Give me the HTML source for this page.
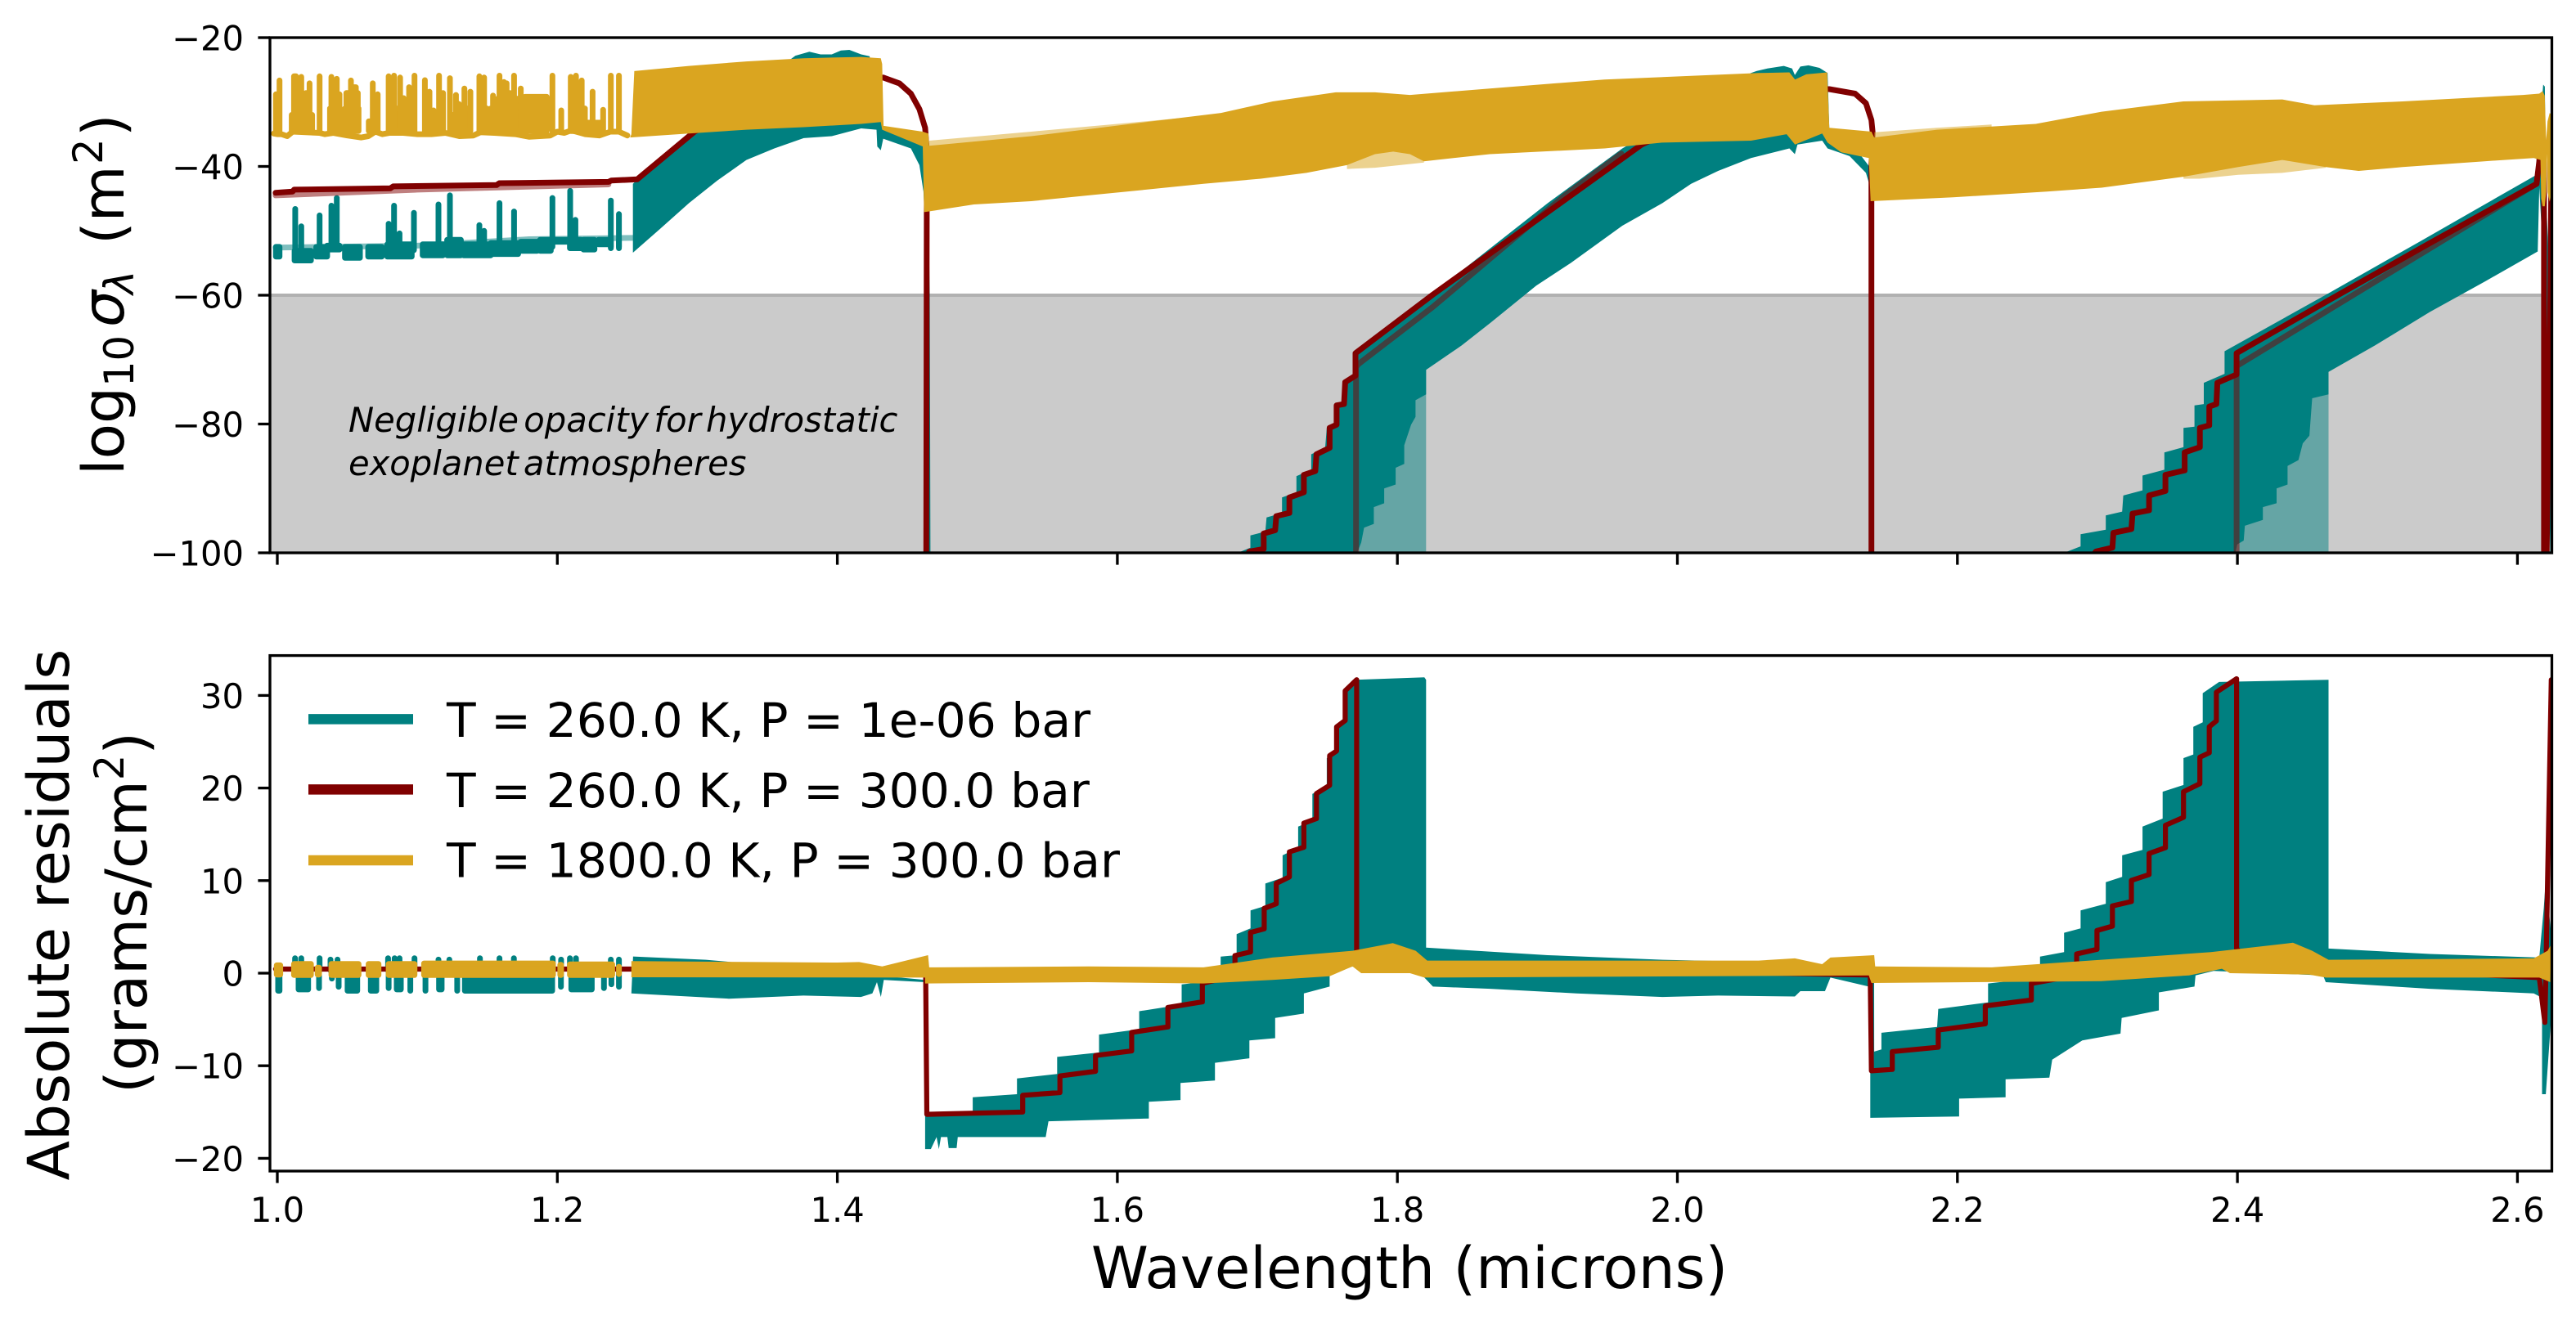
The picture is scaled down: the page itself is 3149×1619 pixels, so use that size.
<!DOCTYPE html>
<html lang="en">
<head>
<meta charset="utf-8">
<title>Opacity cross sections and residuals</title>
<style>
html,body{margin:0;padding:0;background:#fff;}
svg{display:block;}
text{font-family:"DejaVu Sans","Liberation Sans",sans-serif;fill:#000;}
</style>
</head>
<body>
<svg id="chart" xmlns="http://www.w3.org/2000/svg" width="3149" height="1619" viewBox="0 0 3149 1619">
  <rect x="0" y="0" width="3149" height="1619" fill="#ffffff"/>
  <defs>
    <clipPath id="clipTop"><rect x="330" y="46" width="2789.5" height="630"/></clipPath>
    <clipPath id="clipBottom"><rect x="330" y="801.6" width="2789.5" height="630.4"/></clipPath>
  </defs>
  <g id="topPlot" clip-path="url(#clipTop)"></g>
  <g id="bottomPlot" clip-path="url(#clipBottom)"></g>
  <g id="axesLayer"></g>

  <text x="426" y="528" font-size="41.67" font-style="italic" word-spacing="-7">Negligible opacity for hydrostatic</text>
  <text x="426" y="581" font-size="41.67" font-style="italic" word-spacing="-7">exoplanet atmospheres</text>

  <text transform="translate(151,581) rotate(-90)" font-size="70.83"><tspan x="0" y="0">log</tspan><tspan x="108" y="12" font-size="49.6">10</tspan><tspan x="181" y="0" font-style="italic">σ</tspan><tspan x="221" y="12" font-size="49.6" font-style="italic">λ</tspan><tspan x="282" y="0">(m</tspan><tspan x="380" y="-26" font-size="49.6">2</tspan><tspan x="414" y="0">)</tspan></text>

  <text transform="translate(84,1118.5) rotate(-90)" font-size="70.83" text-anchor="middle">Absolute residuals</text>
  <text transform="translate(179,1116) rotate(-90)" font-size="70.83" text-anchor="middle">(grams/cm<tspan font-size="49.6" dy="-28">2</tspan><tspan dy="28">)</tspan></text>

  <text x="1723" y="1575" font-size="70.83" text-anchor="middle">Wavelength (microns)</text>

  <g>
    <line x1="377" x2="505" y1="879.4" y2="879.4" stroke="#008080" stroke-width="12.5"/>
    <text x="546" y="900.8" font-size="58.33">T = 260.0 K, P = 1e-06 bar</text>
    <line x1="377" x2="505" y1="965.4" y2="965.4" stroke="#800000" stroke-width="12.5"/>
    <text x="546" y="986.8" font-size="58.33">T = 260.0 K, P = 300.0 bar</text>
    <line x1="377" x2="505" y1="1052" y2="1052" stroke="#DAA520" stroke-width="12.5"/>
    <text x="546" y="1072.6" font-size="58.33">T = 1800.0 K, P = 300.0 bar</text>
  </g>
</svg>
<script>
// ---- Axis tick data ----
const xTickValues = [1.0, 1.2, 1.4, 1.6, 1.8, 2.0, 2.2, 2.4, 2.6];
const xTickLabels = ['1.0', '1.2', '1.4', '1.6', '1.8', '2.0', '2.2', '2.4', '2.6'];
const topTickValues = [-20, -40, -60, -80, -100];
const topTickLabels = ['−20', '−40', '−60', '−80', '−100'];
const bottomTickValues = [30, 20, 10, 0, -10, -20];
const bottomTickLabels = ['30', '20', '10', '0', '−10', '−20'];
const negligibleCeiling = -60;

// ---- Top panel, discrete line features below 1.25 microns: [wave start, wave end, upper value, lower value] ----
const topGoldLines = [[0.999,0.999,-28.8,-34.5],[1.0016,1.0016,-26.65,-34.5],[1.0103,1.0249,-32,-34.5],[1.0119,1.0134,-26,-34.5],[1.0171,1.0171,-26.1,-34.5],[1.0205,1.0205,-28.6,-34.5],[1.023,1.023,-27.1,-34.5],[1.0302,1.0302,-26,-34.5],[1.0376,1.0444,-31,-34.5],[1.0386,1.0386,-26.1,-34.5],[1.0405,1.0405,-27.3,-34.5],[1.0425,1.0425,-26.4,-34.5],[1.0444,1.0444,-28.8,-34.5],[1.0483,1.058,-31,-34.5],[1.0493,1.0509,-28.6,-34.5],[1.0526,1.0526,-26.65,-34.5],[1.0547,1.0561,-27.7,-34.5],[1.0575,1.0575,-28.6,-34.5],[1.0653,1.0664,-33,-34.5],[1.0682,1.0682,-27.1,-34.5],[1.0717,1.0717,-28.8,-34.5],[1.0795,1.0902,-31,-34.5],[1.0795,1.0795,-26,-34.5],[1.0834,1.0834,-25.9,-34.5],[1.0877,1.0877,-26.2,-34.5],[1.0902,1.0902,-29.4,-34.5],[1.0941,1.098,-31,-34.5],[1.0941,1.0941,-27.7,-34.5],[1.098,1.098,-25.9,-34.5],[1.1054,1.1116,-32,-34.5],[1.1054,1.1054,-26.6,-34.5],[1.1087,1.1087,-28.4,-34.5],[1.1116,1.1116,-31.3,-34.5],[1.1155,1.1184,-31,-34.5],[1.1155,1.1155,-25.9,-34.5],[1.1184,1.1184,-28.6,-34.5],[1.1233,1.131,-32,-34.5],[1.1233,1.1233,-26.3,-34.5],[1.1276,1.1276,-28.9,-34.5],[1.1297,1.1297,-30.3,-34.5],[1.1336,1.1379,-31,-34.5],[1.1336,1.1336,-27.9,-34.5],[1.1379,1.1379,-28.4,-34.5],[1.1443,1.1496,-31,-34.5],[1.1443,1.1443,-26,-34.5],[1.1477,1.1477,-26.2,-34.5],[1.1496,1.1496,-33.2,-34.5],[1.1525,1.1574,-31,-34.5],[1.1541,1.1541,-29,-34.5],[1.1587,1.1587,-25.9,-34.5],[1.1574,1.176,-29.5,-34.5],[1.1619,1.1619,-26.9,-34.5],[1.1638,1.1638,-27.1,-34.5],[1.1661,1.1661,-28.6,-34.5],[1.1691,1.1691,-25.9,-34.5],[1.1739,1.1739,-27.9,-34.5],[1.1769,1.1924,-29.2,-34.5],[1.1965,1.1965,-25.9,-34.5],[1.2028,1.2028,-31.3,-34.5],[1.2096,1.2197,-31,-34.5],[1.2096,1.2096,-26.1,-34.5],[1.2133,1.2133,-25.9,-34.5],[1.2174,1.2174,-26.65,-34.5],[1.2197,1.2327,-33.2,-34.5],[1.2252,1.2252,-28.4,-34.5],[1.2327,1.2327,-31.2,-34.5],[1.2382,1.2382,-25.9,-34.5],[1.244,1.244,-25.9,-34.5]];
const topGoldBase = [[0.9975,-34.9],[1.0,-35],[1.003,-35],[1.007,-35.3],[1.011,-34.6],[1.03,-34.8],[1.034,-35],[1.04,-34.8],[1.05,-35.2],[1.06,-35.5],[1.065,-35.3],[1.07,-34.6],[1.075,-35],[1.08,-34.8],[1.09,-34.8],[1.1,-35],[1.11,-35],[1.12,-34.8],[1.13,-35.3],[1.14,-35.2],[1.145,-34.7],[1.155,-34.8],[1.17,-35],[1.18,-35.4],[1.195,-35.2],[1.2,-34.6],[1.205,-34.8],[1.21,-34.4],[1.22,-35],[1.23,-35.2],[1.238,-34.6],[1.244,-34.6],[1.25,-35.2]];
const topTealLines = [[1.0128,1.0128,-46.6,-53],[1.0171,1.0171,-49.3,-53],[1.0302,1.0302,-47.6,-53],[1.0386,1.0386,-46.1,-52.5],[1.0425,1.0425,-44.9,-52.5],[1.0795,1.0795,-48.9,-53],[1.0834,1.0834,-46.1,-53],[1.0873,1.0873,-50.4,-53],[1.0976,1.0976,-47.2,-53],[1.1151,1.1151,-45.9,-53],[1.1233,1.1233,-44.5,-53],[1.1443,1.1443,-49.1,-53],[1.1477,1.1477,-50,-53],[1.1587,1.1587,-45.7,-53],[1.1691,1.1691,-47,-53],[1.1965,1.1965,-44.9,-52.5],[1.2092,1.2092,-43.8,-52],[1.2129,1.2129,-48.3,-52],[1.2382,1.2382,-45.3,-52.5],[1.244,1.244,-47.4,-52.5]];
const topTealClusters = [[0.999,1.0016,-52.5,-54],[1.0123,1.024,-53.1,-54.6],[1.0278,1.0356,-52.5,-54],[1.0356,1.0444,-52.3,-52.9],[1.0483,1.059,-52.5,-54.2],[1.0649,1.0746,-52.5,-54],[1.0785,1.096,-52.1,-54],[1.1038,1.1184,-52.1,-53.8],[1.1213,1.1311,-51.4,-53.8],[1.133,1.1525,-52.1,-53.8],[1.1525,1.172,-51.9,-53.6],[1.1739,1.1856,-51.7,-53.1],[1.1876,1.1953,-51.4,-53.1],[1.1983,1.209,-51.4,-51.7],[1.209,1.2168,-51.4,-52.7],[1.2187,1.2265,-51.4,-52.9],[1.2294,1.2362,-51.4,-52.1],[1.2382,1.2382,-51.4,-52.7],[1.244,1.244,-51.4,-52.7]];
const topTealFaintFlat = [[0.9988,-52.6],[1.1,-52.3],[1.18,-51.3],[1.254,-51.1]];

// ---- Top panel, band envelopes: [wavelength, log10 sigma] ----
const topTealBand1Upper = [[1.254,-42.7],[1.2734,-38.7],[1.298,-34.3],[1.3676,-23.2],[1.37,-22.8],[1.38,-22.2],[1.388,-22.6],[1.396,-22.6],[1.4025,-22],[1.4086,-21.9],[1.417,-22.6],[1.423,-22.9],[1.43,-30],[1.433,-34],[1.461,-36],[1.4645,-40],[1.466,-60],[1.4665,-100]];
const topTealBand1Lower = [[1.254,-53.4],[1.2734,-49.7],[1.294,-45.7],[1.3143,-42.2],[1.335,-39],[1.355,-37.2],[1.376,-35.6],[1.396,-35.3],[1.417,-34.1],[1.428,-34.3],[1.4285,-36.9],[1.431,-37.5],[1.4328,-35.7],[1.4525,-37.2],[1.4586,-39.8],[1.4615,-43.9],[1.4627,-49.2],[1.463,-100]];

const topTealBand2Upper = [[1.686,-100],[1.695,-99.2],[1.695,-97.3],[1.7057,-96.7],[1.7066,-94.5],[1.7176,-93.8],[1.7176,-91.4],[1.7279,-90.6],[1.7279,-88.1],[1.7385,-87.1],[1.7385,-84.7],[1.7484,-83.7],[1.7496,-80.6],[1.7549,-80.1],[1.7557,-77.1],[1.761,-76.6],[1.7619,-73.5],[1.7689,-72.5],[1.7689,-68.7],[1.8254,-59.7],[1.9074,-45.7],[1.9607,-37.2],[2.0526,-25.5],[2.0565,-25.2],[2.0643,-24.8],[2.076,-24.4],[2.0819,-24.8],[2.0839,-25.8],[2.0878,-24.5],[2.0936,-24.3],[2.1015,-24.7],[2.1073,-25.5],[2.1085,-34],[2.117,-37],[2.13,-38],[2.137,-40],[2.139,-60],[2.1395,-100]];
const topTealBand2Lower = [[1.7713,-100],[1.7742,-98.4],[1.7762,-96.1],[1.7832,-95.5],[1.7832,-92.9],[1.7906,-92.3],[1.7906,-90],[1.7988,-89.4],[1.7988,-86.8],[1.8049,-86.2],[1.8049,-83.3],[1.8098,-80.1],[1.813,-78.9],[1.813,-76.3],[1.8205,-75.4],[1.8205,-71.6],[1.8459,-67.8],[1.8664,-64.3],[1.8992,-58.5],[1.9238,-55],[1.9607,-49.2],[1.9893,-45.7],[2.0098,-42.7],[2.0291,-40.7],[2.0526,-38.7],[2.08,-37.2],[2.0839,-38.1],[2.0858,-36.6],[2.1034,-36],[2.1073,-37.2],[2.123,-38.4],[2.1347,-41],[2.1378,-43.3],[2.1394,-100]];

const topTealBand3Upper = [[2.2762,-100],[2.288,-99],[2.288,-97.1],[2.306,-96.4],[2.306,-94.2],[2.3177,-93.6],[2.3185,-91.1],[2.3322,-90.3],[2.3322,-88],[2.3478,-87.1],[2.3478,-84.4],[2.3615,-83.6],[2.3615,-80.6],[2.3693,-80.4],[2.3693,-77.1],[2.376,-76.9],[2.376,-73.6],[2.3908,-72.2],[2.3908,-68.7],[2.4651,-59.7],[2.5316,-51.5],[2.6137,-41.3],[2.6168,-31.7],[2.6184,-27.3],[2.6196,-27.6],[2.6205,-45],[2.6235,-60],[2.6245,-100]];
const topTealBand3Lower = [[2.3986,-100],[2.3998,-98.7],[2.4045,-98.1],[2.4053,-95.8],[2.4182,-94.9],[2.4182,-92.9],[2.428,-92.3],[2.428,-90],[2.4358,-89.4],[2.4358,-86.5],[2.4436,-85.6],[2.4467,-83],[2.4514,-81.8],[2.4534,-76],[2.4651,-75.4],[2.4651,-71.9],[2.4983,-67.8],[2.5374,-62.6],[2.5765,-57.9],[2.6145,-53.2],[2.6156,-43.3],[2.62,-60],[2.6235,-100]];

const topTealFaint1 = [[1.7689,-100],[1.7689,-71.6],[1.8205,-71.6],[1.8205,-100]];
const topTealFaint2 = [[2.3986,-100],[2.3986,-71.9],[2.4651,-71.9],[2.4651,-100]];

const topMaroonLine = [[0.9988,-44.1],[1.011,-43.9],[1.012,-43.6],[1.0807,-43.4],[1.0828,-43.1],[1.1566,-42.9],[1.1586,-42.6],[1.2365,-42.4],[1.2385,-42.2],[1.257,-42],[1.298,-34.6],[1.36,-28],[1.4328,-26.2],[1.4443,-27.1],[1.4525,-28.7],[1.4586,-31.1],[1.4627,-34],[1.4639,-37.5],[1.4635,-100],[1.4635,-104],[1.682,-104],[1.6943,-99.8],[1.7045,-99.4],[1.7045,-97],[1.7127,-96.5],[1.7135,-94.3],[1.7229,-93.8],[1.7229,-91.4],[1.7332,-90.6],[1.7332,-87.9],[1.7414,-87.3],[1.7422,-84.7],[1.7516,-83.7],[1.7516,-80.6],[1.7566,-80.1],[1.7566,-77.1],[1.7619,-76.9],[1.7627,-73.5],[1.7701,-72.5],[1.7701,-69],[1.8254,-59.9],[1.9746,-36.6],[2.06,-28],[2.1085,-28],[2.1269,-28.7],[2.1347,-30.2],[2.1386,-32.8],[2.1394,-34.6],[2.1386,-40],[2.1386,-100],[2.1386,-104],[2.285,-104],[2.2989,-99.8],[2.3107,-99.2],[2.3114,-96.9],[2.3243,-96.3],[2.3251,-93.9],[2.3369,-93.4],[2.3369,-91.1],[2.3486,-90.4],[2.3486,-87.9],[2.3623,-87.2],[2.3623,-84.4],[2.3732,-83.6],[2.3732,-80.6],[2.3799,-80.2],[2.3799,-77.3],[2.385,-76.9],[2.3857,-73.6],[2.3994,-72.3],[2.3994,-69],[2.4651,-60.8],[2.5335,-52.4],[2.6137,-42.7],[2.6156,-39.2],[2.6172,-31.7],[2.619,-38],[2.619,-100],[2.6205,-106],[2.6235,-60],[2.6245,-35]];
const topMaroonFaint1 = [[0.9988,-44.5],[1.1,-43.6],[1.2365,-42.8]];
const topMaroonFaint2 = [[1.7705,-100],[1.7705,-71.2],[1.7721,-70.7],[1.8254,-61.8],[1.9197,-44.5],[1.96,-38]];
const topMaroonFaint3 = [[2.3994,-100],[2.3994,-71],[2.4651,-62.3],[2.5687,-48.6],[2.6137,-42.7]];

const topGoldFaint1Upper = [[1.4656,-36],[1.5385,-34.6],[1.6,-33.4],[1.67,-32]];
const topGoldFaint1Lower = [[1.4656,-37.5],[1.67,-32.5]];
const topGoldFaint2Upper = [[1.764,-37],[1.819,-37]];
const topGoldFaint2Lower = [[1.764,-40.4],[1.784,-40.2],[1.819,-39.4]];
const topGoldFaint3Upper = [[2.1406,-34.7],[2.1855,-34],[2.2244,-33.5]];
const topGoldFaint3Lower = [[2.1406,-36],[2.2244,-34]];
const topGoldFaint4Upper = [[2.3615,-38],[2.463,-38]];
const topGoldFaint4Lower = [[2.3615,-41.9],[2.373,-41.9],[2.4006,-41.3],[2.432,-41],[2.463,-40.2]];

const topGoldUpper = [[1.2529,-35],[1.255,-25.2],[1.294,-24.4],[1.335,-23.7],[1.376,-23.2],[1.417,-23],[1.431,-23.2],[1.432,-24.1],[1.433,-33.7],[1.461,-34.6],[1.465,-34.9],[1.4656,-36.8],[1.5385,-35.3],[1.6205,-33.1],[1.674,-31.7],[1.711,-29.9],[1.756,-28.5],[1.784,-28.5],[1.809,-28.9],[1.866,-27.9],[1.948,-26.5],[2.058,-25.5],[2.08,-25.4],[2.084,-26.5],[2.092,-25.7],[2.107,-25.4],[2.1085,-34],[2.1386,-34.6],[2.1406,-35.5],[2.1855,-34.3],[2.256,-33.4],[2.303,-31.5],[2.3615,-29.9],[2.432,-29.6],[2.455,-30.5],[2.518,-29.9],[2.604,-28.9],[2.6156,-28.7],[2.618,-28.3],[2.6195,-29],[2.6205,-36],[2.6215,-33],[2.623,-31.7],[2.6245,-32]];
const topGoldLower = [[1.252,-35.5],[1.294,-34.9],[1.335,-34.3],[1.376,-33.9],[1.417,-33.4],[1.431,-33.1],[1.432,-34.3],[1.461,-36.9],[1.462,-47.1],[1.4975,-45.9],[1.5385,-45.4],[1.5795,-44.5],[1.6205,-43.6],[1.6615,-42.7],[1.7025,-41.9],[1.735,-41],[1.764,-39.8],[1.784,-38.1],[1.797,-37.7],[1.809,-38.1],[1.819,-39.2],[1.866,-38.1],[1.948,-37.2],[1.989,-36.3],[2.0526,-36],[2.078,-35],[2.084,-36.6],[2.1034,-34.9],[2.1073,-36.3],[2.117,-37.8],[2.1367,-38.7],[2.138,-45.4],[2.197,-44.8],[2.264,-43.9],[2.303,-43.3],[2.3615,-41.6],[2.4006,-40.1],[2.432,-39],[2.463,-40.1],[2.4866,-40.7],[2.518,-40.1],[2.5765,-39.2],[2.6117,-38.7],[2.6165,-39],[2.617,-45],[2.618,-46.2],[2.6195,-46.2],[2.6205,-44],[2.6212,-38],[2.6215,-44],[2.623,-45.5],[2.6245,-44]];

// ---- Bottom panel, discrete features below 1.25 microns: [wave start, wave end, upper value, lower value] ----
const resTealLowBars = [[1.0006,1.0016,0.3,-1.9],[1.0152,1.022,0.3,-1.76],[1.0298,1.0298,0.3,-1.62],[1.039,1.039,0.3,-0.58],[1.0438,1.0438,0.3,-1.47],[1.0502,1.0571,0.3,-1.9],[1.0668,1.0707,0.3,-1.9],[1.0795,1.0795,0.3,-1.62],[1.0853,1.0882,0.3,-1.76],[1.095,1.095,0.3,-1.9],[1.1058,1.1058,0.3,-1.9],[1.1155,1.1174,0.3,-1.76],[1.1285,1.1285,0.3,-1.9],[1.134,1.1963,0.3,-1.9],[1.2026,1.2026,0.3,-1.47],[1.21,1.2246,0.3,-1.76],[1.2333,1.2333,0.3,-1.62],[1.2386,1.2386,0.3,-1.2],[1.244,1.244,0.3,-1.47]];
const resTealHighBars = [[1.0127,1.0127,1.62,0.3],[1.0171,1.0171,1.62,0.3],[1.0302,1.0302,1.62,0.3],[1.038,1.038,1.47,0.3],[1.043,1.043,1.47,0.3],[1.0791,1.0791,1.62,0.3],[1.0838,1.0838,1.62,0.3],[1.0873,1.0873,1.62,0.3],[1.098,1.098,1.62,0.3],[1.1151,1.1151,1.47,0.3],[1.1229,1.1229,1.47,0.3],[1.1447,1.1447,1.62,0.3],[1.1587,1.1587,1.62,0.3],[1.169,1.169,1.62,0.3],[1.1967,1.1967,1.62,0.3],[1.2027,1.2027,1.47,0.3],[1.209,1.209,1.62,0.3],[1.2133,1.2133,1.62,0.3],[1.2382,1.2382,1.47,0.3],[1.244,1.244,1.47,0.3]];
const resGoldClusters = [[0.9996,1.0021,0.85,-0.15],[1.0119,1.024,1,-0.2],[1.0288,1.0298,0.6,-0.15],[1.0386,1.058,1,-0.2],[1.0652,1.0723,1,-0.2],[1.0795,1.098,1,-0.2],[1.1048,1.1969,1.05,-0.2],[1.2021,1.2027,0.9,-0.2],[1.209,1.2392,0.95,-0.2],[1.244,1.244,0.7,-0.1]];

// ---- Bottom panel, band envelopes: [wavelength, absolute residual] ----
const resTealBand1Upper = [[1.2541,1.8],[1.3061,1.45],[1.429,-0.24],[1.4627,-0.73]];
const resTealBand1Lower = [[1.2529,-2.18],[1.3225,-2.76],[1.3758,-2.42],[1.4168,-2.57],[1.425,-2.18],[1.4283,-0.97],[1.4311,-2.57],[1.4332,-0.73],[1.4627,-0.97]];

const resTealBand2Upper = [[1.4627,-0.9],[1.4632,-15.2],[1.4967,-15],[1.4967,-13.4],[1.5283,-13.07],[1.5283,-11.37],[1.557,-10.89],[1.557,-9.05],[1.5869,-8.57],[1.5869,-6.63],[1.6156,-6.05],[1.6156,-4.11],[1.6459,-3.39],[1.6459,-1.21],[1.6738,-0.73],[1.6738,1.79],[1.6852,1.94],[1.6852,4.21],[1.6951,4.84],[1.6951,6.78],[1.7057,7.26],[1.7057,9.68],[1.718,10.31],[1.718,12.73],[1.7291,13.55],[1.7291,15.83],[1.7393,16.46],[1.7393,19.36],[1.7496,20.09],[1.7496,23.23],[1.7557,23.72],[1.7557,26.62],[1.7619,27.35],[1.7619,30.49],[1.7701,31.7],[1.8193,31.95],[1.8205,31.7],[1.8205,2.76],[1.9074,1.94],[1.9893,1.45],[2.058,1.21],[2.138,0.5]];
const resTealBand2Lower = [[1.4627,-19],[1.4668,-19],[1.4709,-17.7],[1.4725,-19],[1.474,-17.7],[1.4786,-17.7],[1.4795,-18.9],[1.4852,-18.9],[1.486,-17.7],[1.5488,-17.7],[1.5508,-16],[1.6225,-15.7],[1.6225,-13.9],[1.6451,-13.7],[1.6451,-11.86],[1.6697,-11.6],[1.6697,-9.68],[1.6943,-9.2],[1.6943,-7.26],[1.7127,-7.02],[1.7127,-4.84],[1.7332,-4.36],[1.7332,-2.18],[1.7516,-1.45],[1.7516,-0.24],[1.768,0.73],[1.8193,0.24],[1.8193,-0.48],[1.8254,-1.45],[1.8664,-1.69],[1.9279,-2.18],[1.9893,-2.57],[2.0291,-2.42],[2.0839,-2.52],[2.0878,-1.94],[2.1054,-1.94],[2.1093,-0.48],[2.1367,-1.45],[2.138,-0.6]];

const resTealBand3Upper = [[2.1378,-0.5],[2.1405,-0.5],[2.1406,-8.47],[2.1457,-8.23],[2.1457,-6.44],[2.1855,-5.81],[2.1863,-3.87],[2.2219,-3.15],[2.2219,-1.11],[2.259,-0.48],[2.259,1.79],[2.2762,2.27],[2.2762,4.36],[2.288,4.84],[2.288,6.78],[2.306,7.5],[2.306,9.83],[2.3177,10.41],[2.3177,12.73],[2.3322,13.31],[2.3322,15.83],[2.3466,16.7],[2.3466,19.6],[2.3615,20.33],[2.3615,23.23],[2.3685,23.62],[2.3685,26.62],[2.3752,27.1],[2.3752,30.25],[2.3869,31.46],[2.4651,31.7],[2.4651,2.66],[2.5374,2.08],[2.6156,1.69],[2.6188,7],[2.6203,10.2],[2.6242,4.1]];
const resTealBand3Lower = [[2.1378,-15.63],[2.2012,-15.49],[2.2012,-13.55],[2.2344,-13.41],[2.2344,-11.47],[2.2657,-11.28],[2.2677,-9.34],[2.2892,-7.26],[2.3165,-6.53],[2.3173,-4.84],[2.3439,-4.02],[2.3439,-2.08],[2.3693,-1.45],[2.3701,-0.24],[2.383,0.24],[2.4612,-0.24],[2.4631,-0.97],[2.5374,-1.69],[2.6117,-2.18],[2.6176,-2.66],[2.6176,-13.07],[2.6203,-13.07],[2.6242,-4.6]];

const resMaroonLine = [[0.9988,0.44],[1.257,0.44],[1.4631,0.4],[1.4631,-0.24],[1.4639,-15.25],[1.5324,-15],[1.5324,-13.2],[1.559,-12.9],[1.559,-11.1],[1.5844,-10.6],[1.5844,-8.9],[1.6102,-8.4],[1.6102,-6.4],[1.6361,-5.8],[1.6361,-3.7],[1.6607,-3.1],[1.6607,-1.1],[1.684,-0.24],[1.684,1.9],[1.6951,2.3],[1.6951,4.4],[1.7049,4.8],[1.7049,7],[1.7135,7.5],[1.7135,9.7],[1.7229,10.4],[1.7229,13.1],[1.7332,13.6],[1.7332,16.2],[1.7422,16.7],[1.7422,19.4],[1.7516,20.3],[1.7516,23.5],[1.7566,24],[1.7566,26.6],[1.7627,27.3],[1.7627,30.5],[1.7709,31.7],[1.7709,2.4],[1.78,0.8],[2.1378,-0.2],[2.1378,-0.7],[2.1386,-10.55],[2.1535,-10.4],[2.1535,-8.47],[2.1863,-8],[2.1863,-6.15],[2.2199,-5.47],[2.2199,-3.53],[2.2528,-2.9],[2.2528,-1.11],[2.2852,-0.24],[2.2852,2.08],[2.2997,2.57],[2.2997,4.6],[2.3107,5.08],[2.3107,7.26],[2.3243,7.74],[2.3243,10.02],[2.3369,10.65],[2.3369,12.92],[2.3486,13.55],[2.3486,15.97],[2.3615,16.84],[2.3615,19.6],[2.3732,20.47],[2.3732,23.33],[2.3799,23.81],[2.3799,26.62],[2.385,27.25],[2.385,30.35],[2.3994,31.8],[2.3994,2.66],[2.41,1],[2.6156,-0.48],[2.6196,-5.32],[2.6203,-0.48],[2.6242,31.7]];

const resGoldUpper = [[1.2529,1.3],[1.4,1.15],[1.4156,1.2],[1.432,0.73],[1.4648,1.94],[1.4656,0.63],[1.5795,0.73],[1.6615,0.63],[1.7107,1.69],[1.768,2.42],[1.7967,3.24],[1.8131,2.42],[1.8213,1.36],[1.9074,1.36],[2.058,1.36],[2.0839,1.6],[2.1034,0.97],[2.1093,1.69],[2.1406,1.94],[2.1413,0.73],[2.2246,0.63],[2.3028,1.45],[2.381,2.27],[2.4397,3.29],[2.4534,2.42],[2.4651,1.45],[2.6117,1.6],[2.6215,2.42],[2.6242,3.1]];
const resGoldLower = [[1.2529,-0.44],[1.4627,-0.48],[1.4627,-1.11],[1.5795,-0.97],[1.6615,-1.11],[1.7107,-0.73],[1.7516,-0.34],[1.768,0.73],[1.7742,0],[1.809,0],[1.8193,-0.48],[2.1367,-0.24],[2.1386,-1.06],[2.3028,-0.87],[2.3654,-0.24],[2.3889,0.48],[2.3947,0],[2.4514,-0.15],[2.4631,-0.48],[2.6156,-0.48],[2.6235,-0.97]];

// ---- Axis functions ----
function xScale(w) { return 339 + (w - 1) * 1711.5; }
function topY(v) { return 46 + (-20 - v) * 7.875; }
function bottomY(r) { return 1190 - r * 11.32; }

const SVGNS = 'http://www.w3.org/2000/svg';
const topPlot = document.getElementById('topPlot');
const bottomPlot = document.getElementById('bottomPlot');
const axesLayer = document.getElementById('axesLayer');

function linePath(points, yFn) {
  return points.map(function (p, i) {
    return (i ? 'L' : 'M') + xScale(p[0]).toFixed(1) + ' ' + yFn(p[1]).toFixed(1);
  }).join(' ');
}
function bandPath(upper, lower, yFn) {
  const back = lower.slice().reverse().map(function (p) {
    return 'L' + xScale(p[0]).toFixed(1) + ' ' + yFn(p[1]).toFixed(1);
  }).join(' ');
  return linePath(upper, yFn) + ' ' + back + ' Z';
}
function barsPath(groups, yFn) {
  return groups.map(function (g) {
    const x1 = xScale(g[0]).toFixed(1);
    const x2 = xScale(g[1]).toFixed(1);
    const yTop = yFn(g[2]).toFixed(1);
    const yBot = yFn(g[3]).toFixed(1);
    return 'M' + x1 + ' ' + yTop + ' L' + x2 + ' ' + yTop + ' L' + x2 + ' ' + yBot + ' L' + x1 + ' ' + yBot + ' Z';
  }).join(' ');
}
function addBand(parent, name, d, color, opacity) {
  const el = document.createElementNS(SVGNS, 'path');
  
  
  el.setAttribute('d', d);
  el.setAttribute('fill', color);
  el.setAttribute('fill-opacity', opacity);
  parent.appendChild(el);
}
function addLine(parent, name, d, color, width, opacity) {
  const el = document.createElementNS(SVGNS, 'path');
  
  
  el.setAttribute('d', d);
  el.setAttribute('fill', 'none');
  el.setAttribute('stroke', color);
  el.setAttribute('stroke-width', width);
  el.setAttribute('stroke-opacity', opacity);
  el.setAttribute('stroke-linejoin', 'round');
  el.setAttribute('stroke-linecap', 'round');
  parent.appendChild(el);
}
function addBars(parent, name, d, color, width) {
  const el = document.createElementNS(SVGNS, 'path');
  
  
  el.setAttribute('d', d);
  el.setAttribute('fill', color);
  el.setAttribute('stroke', color);
  el.setAttribute('stroke-width', width);
  el.setAttribute('stroke-linejoin', 'round');
  el.setAttribute('stroke-linecap', 'round');
  parent.appendChild(el);
}

const TEAL = '#008080';
const MAROON = '#800000';
const GOLD = '#DAA520';

// Negligible region
const negligible = document.createElementNS(SVGNS, 'rect');


negligible.setAttribute('x', 330);
negligible.setAttribute('y', topY(negligibleCeiling));
negligible.setAttribute('width', 2789.5);
negligible.setAttribute('height', topY(-100) - topY(negligibleCeiling));
negligible.setAttribute('fill', '#cbcbcb');
topPlot.appendChild(negligible);
const ceilingLine = document.createElementNS(SVGNS, 'line');


ceilingLine.setAttribute('x1', 330);
ceilingLine.setAttribute('x2', 3119.5);
ceilingLine.setAttribute('y1', topY(negligibleCeiling));
ceilingLine.setAttribute('y2', topY(negligibleCeiling));
ceilingLine.setAttribute('stroke', '#b1b1b1');
ceilingLine.setAttribute('stroke-width', 4);
topPlot.appendChild(ceilingLine);

// Top panel series
addBand(topPlot, 'teal-faint-band-1', linePath(topTealFaint1, topY) + ' Z', TEAL, 0.5);
addBand(topPlot, 'teal-faint-band-2', linePath(topTealFaint2, topY) + ' Z', TEAL, 0.5);
addLine(topPlot, 'teal-faint-continuum', linePath(topTealFaintFlat, topY), TEAL, 7, 0.5);
addBars(topPlot, 'teal-line-features', barsPath(topTealLines, topY), TEAL, 7);
addBars(topPlot, 'teal-line-clusters', barsPath(topTealClusters, topY), TEAL, 7);
addBand(topPlot, 'teal-band-1', bandPath(topTealBand1Upper, topTealBand1Lower, topY), TEAL, 1);
addBand(topPlot, 'teal-band-2', bandPath(topTealBand2Upper, topTealBand2Lower, topY), TEAL, 1);
addBand(topPlot, 'teal-band-3', bandPath(topTealBand3Upper, topTealBand3Lower, topY), TEAL, 1);
addLine(topPlot, 'maroon-faint-segment-1', linePath(topMaroonFaint1, topY), MAROON, 7, 0.5);
addLine(topPlot, 'maroon-faint-segment-2', linePath(topMaroonFaint2, topY), MAROON, 7, 0.5);
addLine(topPlot, 'maroon-faint-segment-3', linePath(topMaroonFaint3, topY), MAROON, 7, 0.5);
addLine(topPlot, 'maroon-spectrum', linePath(topMaroonLine, topY), MAROON, 7, 1);
addBand(topPlot, 'gold-faint-band-1', bandPath(topGoldFaint1Upper, topGoldFaint1Lower, topY), GOLD, 0.5);
addBand(topPlot, 'gold-faint-band-2', bandPath(topGoldFaint2Upper, topGoldFaint2Lower, topY), GOLD, 0.5);
addBand(topPlot, 'gold-faint-band-3', bandPath(topGoldFaint3Upper, topGoldFaint3Lower, topY), GOLD, 0.5);
addBand(topPlot, 'gold-faint-band-4', bandPath(topGoldFaint4Upper, topGoldFaint4Lower, topY), GOLD, 0.5);
addLine(topPlot, 'gold-continuum', linePath(topGoldBase, topY), GOLD, 7, 1);
addBars(topPlot, 'gold-line-features', barsPath(topGoldLines, topY), GOLD, 7);
addBand(topPlot, 'gold-band', bandPath(topGoldUpper, topGoldLower, topY), GOLD, 1);

// Bottom panel series
addBars(bottomPlot, 'residual-teal-low-bars', barsPath(resTealLowBars, bottomY), TEAL, 7);
addBars(bottomPlot, 'residual-teal-high-bars', barsPath(resTealHighBars, bottomY), TEAL, 7);
addBand(bottomPlot, 'residual-teal-band-1', bandPath(resTealBand1Upper, resTealBand1Lower, bottomY), TEAL, 1);
addBand(bottomPlot, 'residual-teal-band-2', bandPath(resTealBand2Upper, resTealBand2Lower, bottomY), TEAL, 1);
addBand(bottomPlot, 'residual-teal-band-3', bandPath(resTealBand3Upper, resTealBand3Lower, bottomY), TEAL, 1);
addLine(bottomPlot, 'residual-maroon', linePath(resMaroonLine, bottomY), MAROON, 6.2, 1);
addBars(bottomPlot, 'residual-gold-clusters', barsPath(resGoldClusters, bottomY), GOLD, 7);
addBand(bottomPlot, 'residual-gold-band', bandPath(resGoldUpper, resGoldLower, bottomY), GOLD, 1);

// Ticks and labels
function addTick(name, x1, y1, x2, y2) {
  const el = document.createElementNS(SVGNS, 'line');
  
  
  el.setAttribute('x1', x1);
  el.setAttribute('y1', y1);
  el.setAttribute('x2', x2);
  el.setAttribute('y2', y2);
  el.setAttribute('stroke', '#000');
  el.setAttribute('stroke-width', 3.33);
  axesLayer.appendChild(el);
}
function addTickLabel(name, x, y, anchor, str) {
  const el = document.createElementNS(SVGNS, 'text');
  
  
  el.setAttribute('x', x);
  el.setAttribute('y', y);
  el.setAttribute('text-anchor', anchor);
  el.setAttribute('font-size', 41.67);
  el.textContent = str;
  axesLayer.appendChild(el);
}
xTickValues.forEach(function (w, i) {
  addTick('top-x-tick', xScale(w), 676, xScale(w), 690.6);
  addTick('bottom-x-tick', xScale(w), 1432, xScale(w), 1446.6);
  addTickLabel('x-tick-label', xScale(w), 1494, 'middle', xTickLabels[i]);
});
topTickValues.forEach(function (v, i) {
  addTick('top-y-tick', 330, topY(v), 315.4, topY(v));
  addTickLabel('top-y-tick-label', 298, topY(v) + 15.5, 'end', topTickLabels[i]);
});
bottomTickValues.forEach(function (r, i) {
  addTick('bottom-y-tick', 330, bottomY(r), 315.4, bottomY(r));
  addTickLabel('bottom-y-tick-label', 298, bottomY(r) + 15.5, 'end', bottomTickLabels[i]);
});

// Axes frames
function addFrame(name, y, h) {
  const el = document.createElementNS(SVGNS, 'rect');
  
  
  el.setAttribute('x', 330);
  el.setAttribute('y', y);
  el.setAttribute('width', 2789.5);
  el.setAttribute('height', h);
  el.setAttribute('fill', 'none');
  el.setAttribute('stroke', '#000');
  el.setAttribute('stroke-width', 3.33);
  axesLayer.appendChild(el);
}
addFrame('top-axes-frame', 46, 630);
addFrame('bottom-axes-frame', 801.6, 630.4);
</script>
</body>
</html>
